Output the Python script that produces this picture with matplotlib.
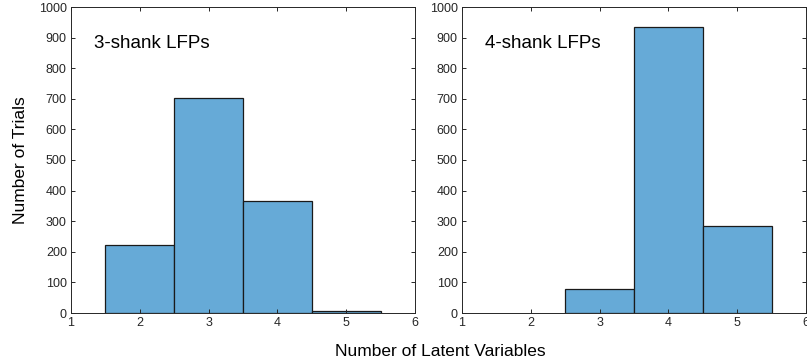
import matplotlib
matplotlib.use("Agg")
import matplotlib.pyplot as plt
import numpy as np

plt.rcParams["font.family"] = ["Liberation Sans", "DejaVu Sans"]

# histogram counts per number of latent variables
bins = [2, 3, 4, 5]
counts_3shank = [222, 702, 365, 6]
counts_4shank = [0, 78, 935, 285]
labels = ["3-shank LFPs", "4-shank LFPs"]

face = (0.4, 0.668, 0.845)
axcol = "#262626"

fig = plt.figure(figsize=(8.07, 3.64), dpi=100)
ax1 = fig.add_axes([71 / 807, 51 / 364, 344 / 807, 306 / 364])
ax2 = fig.add_axes([462 / 807, 51 / 364, 344 / 807, 306 / 364])

for ax, counts, label in zip([ax1, ax2], [counts_3shank, counts_4shank], labels):
    x = [b for b, c in zip(bins, counts) if c > 0]
    h = [c for c in counts if c > 0]
    ax.bar(x, h, width=1.0, color=face, edgecolor="#1a1a1a", linewidth=0.9)
    ax.set_xlim(1, 6)
    ax.set_ylim(0, 1000)
    ax.set_xticks(range(1, 7))
    ax.set_yticks(range(0, 1001, 100))
    ax.tick_params(direction="in", length=3, width=0.7, colors=axcol,
                   labelsize=9, top=True, right=True, pad=3)
    for s in ax.spines.values():
        s.set_color(axcol)
        s.set_linewidth(0.7)
    ax.text(1.33, 882, label, fontsize=13.5, va="center", ha="left", color="black")

ax1.set_ylabel("Number of Trials", fontsize=12.5, color="black", labelpad=8)
fig.text(440 / 807, 1 - 352 / 364, "Number of Latent Variables", fontsize=12.5,
         ha="center", va="center")

fig.savefig("out.png", dpi=100)
